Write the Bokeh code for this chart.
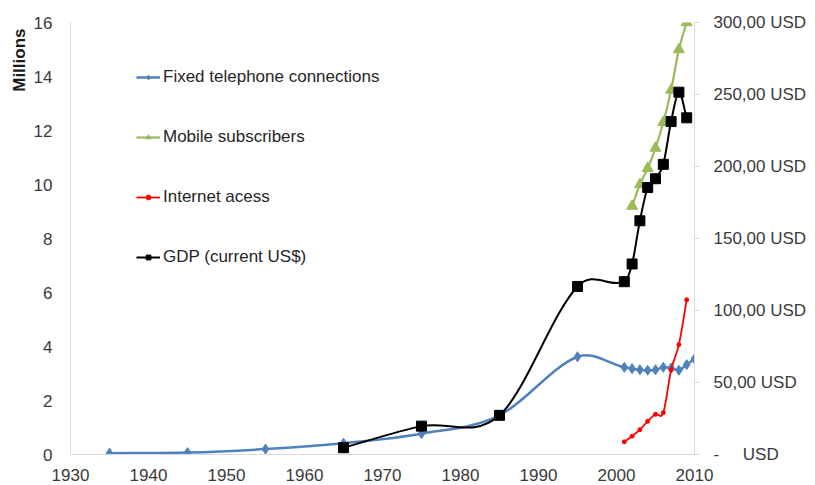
import numpy as np
from bokeh.plotting import figure
from bokeh.models import (Range1d, LinearAxis, FixedTicker, Legend, LegendItem,
                          Title)
from bokeh.embed import file_html
from bokeh.resources import INLINE

# ---- data -------------------------------------------------------------
fixed_years = [1935, 1945, 1955, 1965, 1975, 1985, 1995,
               2001, 2002, 2003, 2004, 2005, 2006, 2007, 2008, 2009, 2010]
fixed_millions = [0.05, 0.07, 0.20, 0.42, 0.77, 1.45, 3.62,
                  3.23, 3.18, 3.14, 3.12, 3.14, 3.23, 3.20, 3.12, 3.33, 3.54]

mobile_years = [2002, 2003, 2004, 2005, 2006, 2007, 2008, 2009]
mobile_millions = [9.2, 10.0, 10.6, 11.35, 12.3, 13.5, 15.0, 16.0]

internet_years = [2001, 2002, 2003, 2004, 2005, 2006, 2007, 2008, 2009]
internet_millions = [0.47, 0.68, 0.92, 1.23, 1.49, 1.55, 3.13, 4.07, 5.73]

gdp_years = [1965, 1975, 1985, 1995, 2001, 2002, 2003, 2004, 2005,
             2006, 2007, 2008, 2009]
gdp_usd = [4.7, 19.7, 27.2, 116.7, 120.0, 132.3, 162.3, 185.4, 191.5,
           201.5, 231.2, 251.6, 233.8]

year_ticks = [1930, 1940, 1950, 1960, 1970, 1980, 1990, 2000, 2010]
million_ticks = [0, 2, 4, 6, 8, 10, 12, 14, 16]
usd_ticks = [0, 50, 100, 150, 200, 250, 300]
NB = "\u00a0"
usd_labels = ["-" + NB * 5 + "USD", "50,00 USD", "100,00 USD", "150,00 USD",
              "200,00 USD", "250,00 USD", "300,00 USD"]

FONT = "Liberation Sans"
TEXT = "#3a3a3a"
AXIS = "#d9d9d9"


def smooth_segments(xs, ys):
    """Cubic Bezier control points for a smoothed line through the points."""
    x = np.asarray(xs, float)
    y = np.asarray(ys, float)
    n = len(x)
    m = np.zeros(n)
    for i in range(n):
        a = max(i - 1, 0)
        b = min(i + 1, n - 1)
        m[i] = (y[b] - y[a]) / (x[b] - x[a])
    h = x[1:] - x[:-1]
    return dict(x0=x[:-1], y0=y[:-1], x1=x[1:], y1=y[1:],
                cx0=x[:-1] + h / 3, cy0=y[:-1] + m[:-1] * h / 3,
                cx1=x[1:] - h / 3, cy1=y[1:] - m[1:] * h / 3)


p = figure(width=815, height=485, output_backend="svg", toolbar_location=None,
           x_range=Range1d(1930, 2010), y_range=Range1d(0, 16),
           min_border_left=70, min_border_right=121,
           min_border_top=22, min_border_bottom=31)
p.extra_y_ranges = {"usd": Range1d(0, 300)}
p.outline_line_color = None
p.xgrid.visible = False
p.ygrid.visible = False
p.background_fill_color = "white"
p.border_fill_color = "white"


def style_axis(ax, tick_out=0):
    ax.axis_line_color = AXIS
    ax.axis_line_width = 1
    ax.major_tick_line_color = AXIS
    ax.major_tick_out = tick_out
    ax.major_tick_in = 0
    ax.minor_tick_line_color = None
    ax.major_label_text_font = FONT
    ax.major_label_text_font_size = "17px"
    ax.major_label_text_color = TEXT


xa = p.xaxis[0]
xa.ticker = FixedTicker(ticks=year_ticks)
style_axis(xa)
xa.major_label_standoff = 14

ya = p.yaxis[0]
ya.ticker = FixedTicker(ticks=million_ticks)
style_axis(ya)
ya.major_label_standoff = 18

ra = LinearAxis(y_range_name="usd", ticker=FixedTicker(ticks=usd_ticks))
style_axis(ra, tick_out=5)
ra.major_label_standoff = 14
ra.major_label_overrides = {t: lab for t, lab in zip(usd_ticks, usd_labels)}
p.add_layout(ra, "right")

# unit caption of the left axis, sitting at its top end
p.add_layout(Title(text="Millions", align="right", offset=6, standoff=4,
                   text_font=FONT, text_font_size="17px",
                   text_font_style="bold", text_color="#1a1a1a"), "left")

BLUE = "#4f81bd"
GREEN = "#9bbb59"
RED = "#ff0000"
BLACK = "#000000"

items = []

fb = p.bezier(line_color=BLUE, line_width=2.5,
              **smooth_segments(fixed_years, fixed_millions))
fs = p.scatter(fixed_years, fixed_millions, marker="diamond", size=10,
               fill_color=BLUE, line_color=BLUE)
items.append(LegendItem(label="Fixed telephone connections", renderers=[fb, fs]))

mb = p.bezier(line_color=GREEN, line_width=2.2,
              **smooth_segments(mobile_years, mobile_millions))
ms = p.scatter(mobile_years, mobile_millions, marker="triangle", size=11,
               fill_color=GREEN, line_color=GREEN)
items.append(LegendItem(label="Mobile subscribers", renderers=[mb, ms]))

ib = p.bezier(line_color=RED, line_width=1.8,
              **smooth_segments(internet_years, internet_millions))
iscat = p.scatter(internet_years, internet_millions, marker="circle", size=4,
                  fill_color=RED, line_color=RED)
items.append(LegendItem(label="Internet acess", renderers=[ib, iscat]))

gb = p.bezier(line_color=BLACK, line_width=2, y_range_name="usd",
              **smooth_segments(gdp_years, gdp_usd))
gs = p.scatter(gdp_years, gdp_usd, marker="square", size=10,
               fill_color=BLACK, line_color=BLACK, y_range_name="usd")
items.append(LegendItem(label="GDP (current US$)", renderers=[gb, gs]))

legend = Legend(items=items, location=(66, 187), padding=0, margin=0,
                spacing=40, label_height=20, glyph_height=12, glyph_width=24,
                label_standoff=3, border_line_color=None,
                background_fill_alpha=0, label_text_font=FONT,
                label_text_font_size="17px", label_text_color="#262626")
p.add_layout(legend, "center")

with open("out.html", "w") as f:
    f.write(file_html(p, INLINE))
